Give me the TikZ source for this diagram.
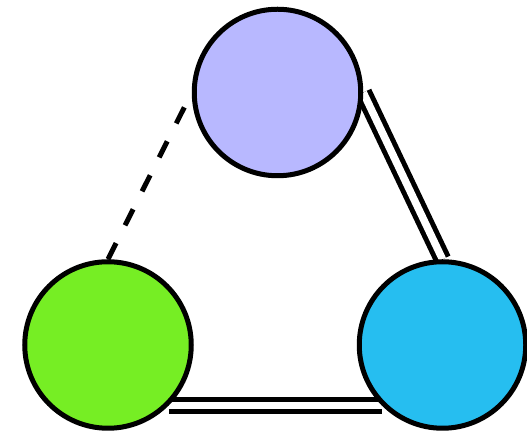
\documentclass[tikz,border=0pt]{standalone}
\usepackage{tikz}
\usetikzlibrary{backgrounds}

\definecolor{lavender}{RGB}{184,184,255}
\definecolor{limegreen}{RGB}{118,238,36}
\definecolor{skyblue}{RGB}{38,190,240}

\begin{document}
\begin{tikzpicture}[
  ball/.style={draw,circle,line width=0.1cm,minimum size=3.33cm,inner sep=0pt},
  dbond/.style={double,double distance=0.15cm,line width=0.1cm},
  dashbond/.style={line width=0.1cm,dash pattern=on 0.36cm off 0.4cm}]
\useasboundingbox (0,0) rectangle (10.54,8.64);
\node[ball,fill=lavender] (T) at (5.55,6.79) {};
\node[ball,fill=limegreen] (L) at (2.16,1.74) {};
\node[ball,fill=skyblue] (R) at (8.85,1.74) {};

\begin{scope}[on background layer]
\draw[dashbond] (L.north) -- (T.west);
\draw[dbond] (T.east) -- (R.north);
\draw[dbond] (L.south east) -- (R.south west);
\end{scope}
\end{tikzpicture}
\end{document}
